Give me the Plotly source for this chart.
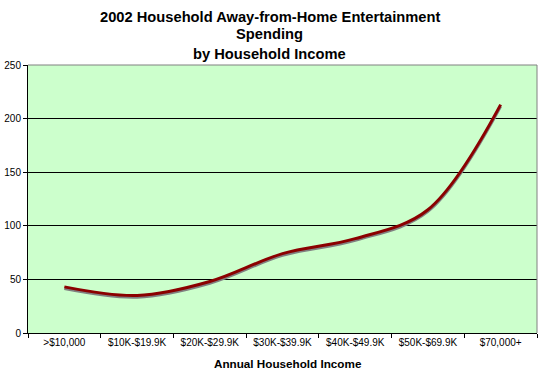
import plotly.graph_objects as go

categories = [">$10,000", "$10K-$19.9K", "$20K-$29.9K", "$30K-$39.9K",
              "$40K-$49.9K", "$50K-$69.9K", "$70,000+"]
spending = [43, 35, 48, 74, 88, 115, 213]

title_lines = ["2002 Household Away-from-Home Entertainment", "Spending", "by Household Income"]
x_title = "Annual Household Income"
y_ticks = [0, 50, 100, 150, 200, 250]

shadow_offset = 1.6  # small visual drop shadow below the line

fig = go.Figure()
fig.add_trace(go.Scatter(
    x=categories, y=[v - shadow_offset for v in spending], mode="lines",
    line=dict(color="#808080", width=3, shape="spline", smoothing=1.0),
    hoverinfo="skip", showlegend=False))
fig.add_trace(go.Scatter(
    x=categories, y=spending, mode="lines",
    line=dict(color="#8B0000", width=3, shape="spline", smoothing=1.0),
    showlegend=False))

font_family = "Liberation Sans, Arial, sans-serif"

annotations = []
for text, y in zip(title_lines, [1.1806, 1.117, 1.0395]):
    annotations.append(dict(text="<b>%s</b>" % text, x=0.4754, y=y, xref="paper", yref="paper",
                            xanchor="center", yanchor="middle", showarrow=False,
                            font=dict(family=font_family, size=14.7, color="black")))
annotations.append(dict(text="<b>%s</b>" % x_title, x=0.51, y=-0.113, xref="paper", yref="paper",
                        xanchor="center", yanchor="middle", showarrow=False,
                        font=dict(family=font_family, size=11.7, color="black")))

fig.update_layout(
    width=540, height=380,
    margin=dict(l=28, r=3, t=65, b=47, autoexpand=False),
    paper_bgcolor="white", plot_bgcolor="#CCFFCC",
    font=dict(family=font_family, size=10, color="black"),
    annotations=annotations,
    shapes=[
        dict(type="line", xref="paper", yref="paper", x0=0, x1=1, y0=1, y1=1,
             line=dict(color="#808080", width=1), layer="above"),
        dict(type="line", xref="paper", yref="paper", x0=1, x1=1, y0=0, y1=1,
             line=dict(color="#808080", width=1), layer="above"),
    ],
    xaxis=dict(type="category", range=[-0.5, 6.5], showgrid=False, showline=True,
               linecolor="black", linewidth=1, ticks="outside", tickson="boundaries",
               ticklen=4, tickcolor="black", tickfont=dict(size=10), zeroline=False,
               automargin=False),
    yaxis=dict(range=[0, 250], tickvals=y_ticks, showgrid=True, gridcolor="black",
               gridwidth=1, showline=True, linecolor="black", linewidth=1,
               ticks="outside", ticklen=4, tickcolor="black", tickfont=dict(size=10),
               zeroline=False, automargin=False),
)

fig.write_html("out.html", config={"displayModeBar": False},
               post_script="document.body.style.margin='0';document.body.style.overflow='hidden';")
